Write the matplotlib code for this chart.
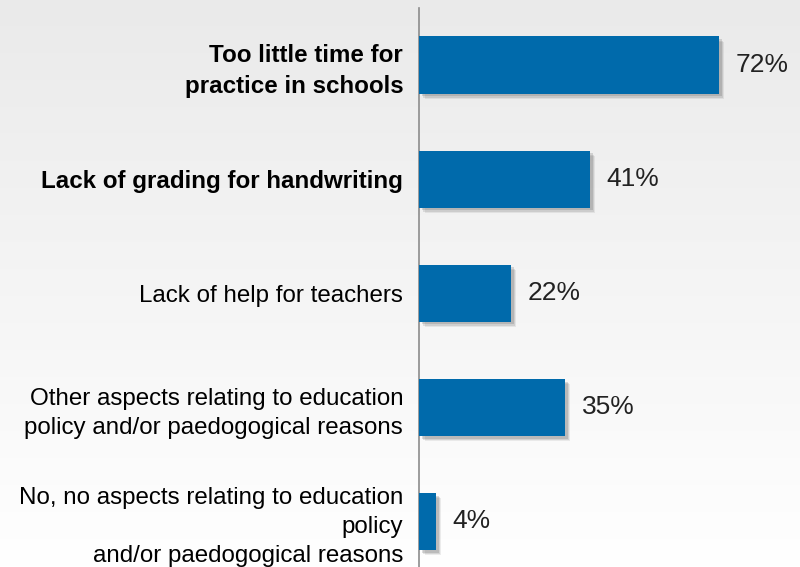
import numpy as np
import matplotlib
matplotlib.use("Agg")
import matplotlib.pyplot as plt
import matplotlib.patheffects as pe

plt.rcParams['font.family'] = ['Liberation Sans', 'DejaVu Sans']

# data
categories = [
    "Too little time for\npractice in schools",
    "Lack of grading for handwriting",
    "Lack of help for teachers",
    "Other aspects relating to education\npolicy and/or paedogogical reasons",
    "No, no aspects relating to education\npolicy\nand/or paedogogical reasons",
]
values = [72, 41, 22, 35, 4]
bold_labels = [True, True, False, False, False]

bar_color = "#006AAB"

fig = plt.figure(figsize=(8, 5.67), dpi=100)

# background gradient (light grey at top to white at bottom)
bg = fig.add_axes([0, 0, 1, 1], zorder=-10)
grad = np.linspace(0, 1, 256).reshape(-1, 1)
top = np.array([0.918, 0.918, 0.918])
bottom = np.array([1.0, 1.0, 1.0])
img = top + (bottom - top) * grad[:, :, None]
bg.imshow(img, aspect="auto", extent=[0, 1, 0, 1], origin="upper")
bg.axis("off")

ax = fig.add_axes([0.524, 0.0, 0.476, 0.986])
ax.patch.set_alpha(0)

y = np.arange(len(values))
shadow = [
    pe.SimplePatchShadow(offset=(4, -4), shadow_rgbFace="#555555", alpha=0.10),
    pe.SimplePatchShadow(offset=(3, -3), shadow_rgbFace="#555555", alpha=0.15),
    pe.SimplePatchShadow(offset=(2, -2), shadow_rgbFace="#555555", alpha=0.20),
    pe.Normal(),
]
bars = ax.barh(y, values, height=0.5, color=bar_color, zorder=3)
for b in bars:
    b.set_path_effects(shadow)

for yi, v in zip(y, values):
    ax.annotate(f"{v}%", xy=(v, yi), xytext=(12, 0), textcoords="offset points",
                va="center", ha="left", fontsize=19, color="#222222")

ax.set_xlim(0, 91.5)
ax.set_ylim(4.4, -0.5)
ax.set_yticks(y)
ax.set_yticklabels(categories, fontsize=17.4, color="black")
for lbl, b in zip(ax.get_yticklabels(), bold_labels):
    lbl.set_fontweight("bold" if b else "normal")
    lbl.set_horizontalalignment("right")
    lbl.set_multialignment("right")
    lbl.set_linespacing(1.4)
ax.tick_params(axis="y", length=0, pad=11.5)
ax.set_xticks([])

for s in ["top", "right", "bottom"]:
    ax.spines[s].set_visible(False)
ax.spines["left"].set_color("#8c8c8c")
ax.spines["left"].set_linewidth(1.2)

fig.savefig("out.png", dpi=100)
